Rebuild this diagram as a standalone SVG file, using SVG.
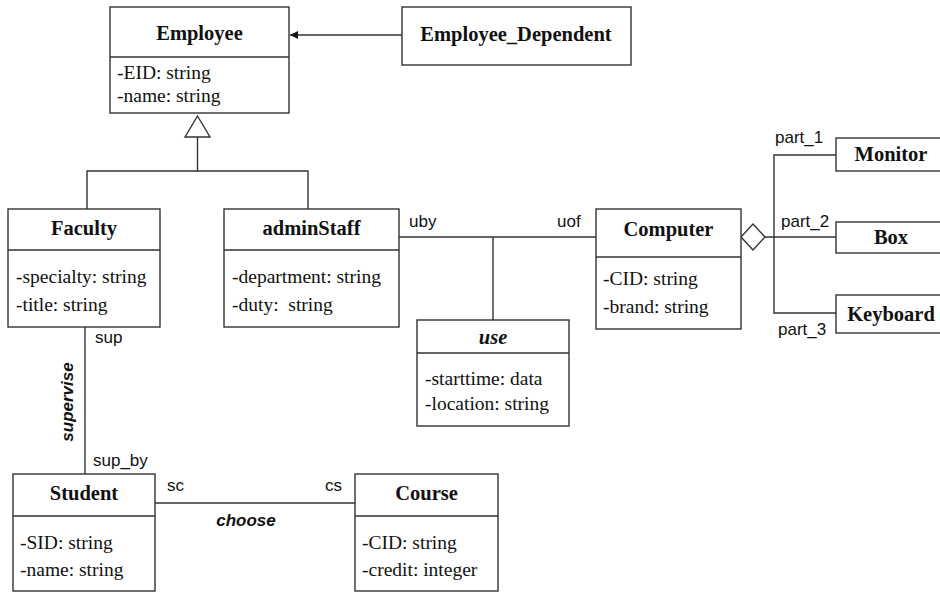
<svg xmlns="http://www.w3.org/2000/svg" width="940" height="592" viewBox="0 0 940 592">
<defs>
<style>
.box{fill:#fff;stroke:#333;stroke-width:1.4}
.ln{fill:none;stroke:#333;stroke-width:1.4}
.t{font-family:"Liberation Serif","Times New Roman",serif;font-weight:bold;font-size:20.5px;fill:#111;text-anchor:middle}
.a{font-family:"Liberation Serif","Times New Roman",serif;font-size:19.5px;fill:#111}
.l{font-family:"Liberation Sans",Arial,sans-serif;font-size:17px;fill:#111}
.r{font-family:"Liberation Sans",Arial,sans-serif;font-size:17px;font-weight:bold;font-style:italic;fill:#111;text-anchor:middle}
</style>
<marker id="arr" viewBox="0 0 8 8" refX="8" refY="4" markerWidth="8" markerHeight="8" markerUnits="userSpaceOnUse" orient="auto">
<path d="M0,0 L8,4 L0,8 Z" fill="#111"/>
</marker>
</defs>
<rect width="940" height="592" fill="#fff"/>
<g id="connectors">
<line class="ln" x1="402" y1="35" x2="290" y2="35" marker-end="url(#arr)"/>
<polygon class="ln" points="197.5,116 185,137 210,137" />
<polyline class="ln" points="197.5,137 197.5,171"/>
<polyline class="ln" points="87,209 87,171 308,171 308,209"/>
<line class="ln" x1="399" y1="237" x2="596" y2="237"/>
<line class="ln" x1="493" y1="237" x2="493" y2="320"/>
<polygon class="ln" points="741,237 753,224 765,237 753,250" fill="#fff"/>
<line class="ln" x1="765" y1="237" x2="836" y2="237"/>
<polyline class="ln" points="836,155 774,155 774,313 836,313"/>
<line class="ln" x1="85" y1="327" x2="85" y2="474"/>
<line class="ln" x1="155" y1="503" x2="355" y2="503"/>
<text class="l" x="409" y="227">uby</text>
<text class="l" x="557" y="227">uof</text>
<text class="l" x="775" y="143">part_1</text>
<text class="l" x="781" y="227">part_2</text>
<text class="l" x="778" y="335">part_3</text>
<text class="l" x="95" y="343">sup</text>
<text class="l" x="93" y="466">sup_by</text>
<text class="r" transform="translate(73,402) rotate(-90)">supervise</text>
<text class="l" x="167" y="491">sc</text>
<text class="l" x="325" y="491">cs</text>
<text class="r" x="246" y="526">choose</text>
</g>
<g id="Employee">
<rect class="box" x="110" y="7" width="179" height="106"/>
<line class="ln" x1="110" y1="57" x2="289" y2="57"/>
<text class="t" x="199.5" y="40">Employee</text>
<text class="a" x="117" y="79">-EID: string</text>
<text class="a" x="117" y="102">-name: string</text>
</g>
<g id="Employee_Dependent">
<rect class="box" x="402" y="7" width="229" height="58"/>
<text class="t" x="516" y="41">Employee_Dependent</text>
</g>
<g id="Faculty">
<rect class="box" x="8" y="209" width="152" height="118"/>
<line class="ln" x1="8" y1="250" x2="160" y2="250"/>
<text class="t" x="84" y="235">Faculty</text>
<text class="a" x="16" y="283">-specialty: string</text>
<text class="a" x="16" y="311">-title: string</text>
</g>
<g id="adminStaff">
<rect class="box" x="224" y="209" width="175" height="118"/>
<line class="ln" x1="224" y1="250" x2="399" y2="250"/>
<text class="t" x="311.5" y="235">adminStaff</text>
<text class="a" x="232" y="283">-department: string</text>
<text class="a" x="232" y="311">-duty:&#160; string</text>
</g>
<g id="Computer">
<rect class="box" x="596" y="209" width="145" height="120"/>
<line class="ln" x1="596" y1="257" x2="741" y2="257"/>
<text class="t" x="668.5" y="236">Computer</text>
<text class="a" x="603" y="285">-CID: string</text>
<text class="a" x="603" y="313">-brand: string</text>
</g>
<g id="use">
<rect class="box" x="417" y="320" width="152" height="106"/>
<line class="ln" x1="417" y1="353" x2="569" y2="353"/>
<text class="t" x="493" y="344" font-style="italic">use</text>
<text class="a" x="425" y="385">-starttime: data</text>
<text class="a" x="425" y="410">-location: string</text>
</g>
<g id="Monitor">
<rect class="box" x="836" y="138" width="110" height="33"/>
<text class="t" x="891" y="161">Monitor</text>
</g>
<g id="Box">
<rect class="box" x="836" y="222" width="110" height="31"/>
<text class="t" x="891" y="244">Box</text>
</g>
<g id="Keyboard">
<rect class="box" x="836" y="295" width="110" height="38"/>
<text class="t" x="891" y="321">Keyboard</text>
</g>
<g id="Student">
<rect class="box" x="13" y="474" width="142" height="117"/>
<line class="ln" x1="13" y1="516" x2="155" y2="516"/>
<text class="t" x="84" y="500">Student</text>
<text class="a" x="20" y="549">-SID: string</text>
<text class="a" x="20" y="576">-name: string</text>
</g>
<g id="Course">
<rect class="box" x="355" y="474" width="143" height="117"/>
<line class="ln" x1="355" y1="516" x2="498" y2="516"/>
<text class="t" x="426.5" y="500">Course</text>
<text class="a" x="362" y="549">-CID: string</text>
<text class="a" x="362" y="576">-credit: integer</text>
</g>
</svg>
